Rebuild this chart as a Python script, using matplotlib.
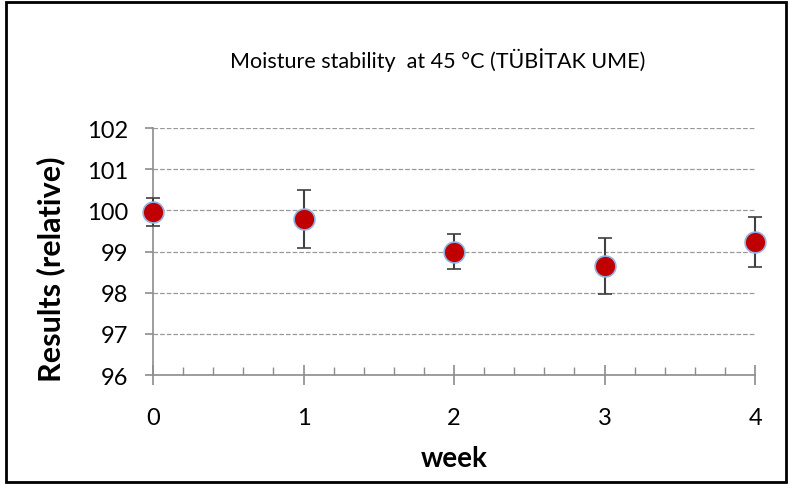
import matplotlib
matplotlib.use("Agg")
import matplotlib.pyplot as plt
from matplotlib.patches import Rectangle
from matplotlib.ticker import MultipleLocator

# data
weeks = [0, 1, 2, 3, 4]
results = [99.96, 99.79, 99.0, 98.66, 99.23]
errors = [0.35, 0.71, 0.43, 0.68, 0.60]

plt.rcParams['font.family'] = ['Lato', 'DejaVu Sans']

fig = plt.figure(figsize=(7.89, 4.85), dpi=100)
ax = fig.add_axes([0.194, 0.2247, 0.763, 0.5093])

ax.errorbar(weeks, results, yerr=errors, fmt='o', color='#C00000',
            markersize=15, markeredgecolor='#8FB4E3', markeredgewidth=1.2,
            ecolor='#404040', elinewidth=1.5, capsize=5, capthick=1.5,
            clip_on=False, zorder=3)

ax.set_xlim(0, 4)
ax.set_ylim(96, 102)
ax.set_yticks(range(96, 103))
ax.set_xticks(weeks)
ax.xaxis.set_minor_locator(MultipleLocator(0.2))
ax.grid(axis='y', linestyle='--', color='#999999', linewidth=0.9)
ax.set_axisbelow(True)

for s in ['top', 'right']:
    ax.spines[s].set_visible(False)
for s in ['left', 'bottom']:
    ax.spines[s].set_color('#8c8c8c')
    ax.spines[s].set_linewidth(1.2)

ax.tick_params(axis='y', colors='#8c8c8c', length=6, width=1.2, labelcolor='black', labelsize=17, pad=12)
ax.tick_params(axis='x', which='major', colors='#8c8c8c', direction='inout', length=14, width=1.2,
               labelcolor='black', labelsize=17, pad=16)
ax.tick_params(axis='x', which='minor', colors='#8c8c8c', direction='in', length=6, width=1.0)

ax.set_xlabel('week', fontsize=20, fontweight='bold', labelpad=12)
ax.set_ylabel('Results (relative)', fontsize=22, fontweight='bold')
ax.yaxis.set_label_coords(-0.146, 0.433)
fig.text(0.555, 0.876, 'Moisture stability  at 45 °C (TÜBİTAK UME)', ha='center', va='center', fontsize=15.5)

fig.patches.append(Rectangle((0.008, 0.005), 0.988, 0.988, transform=fig.transFigure,
                             fill=False, edgecolor='black', linewidth=2))

fig.savefig('out.png', dpi=100)
